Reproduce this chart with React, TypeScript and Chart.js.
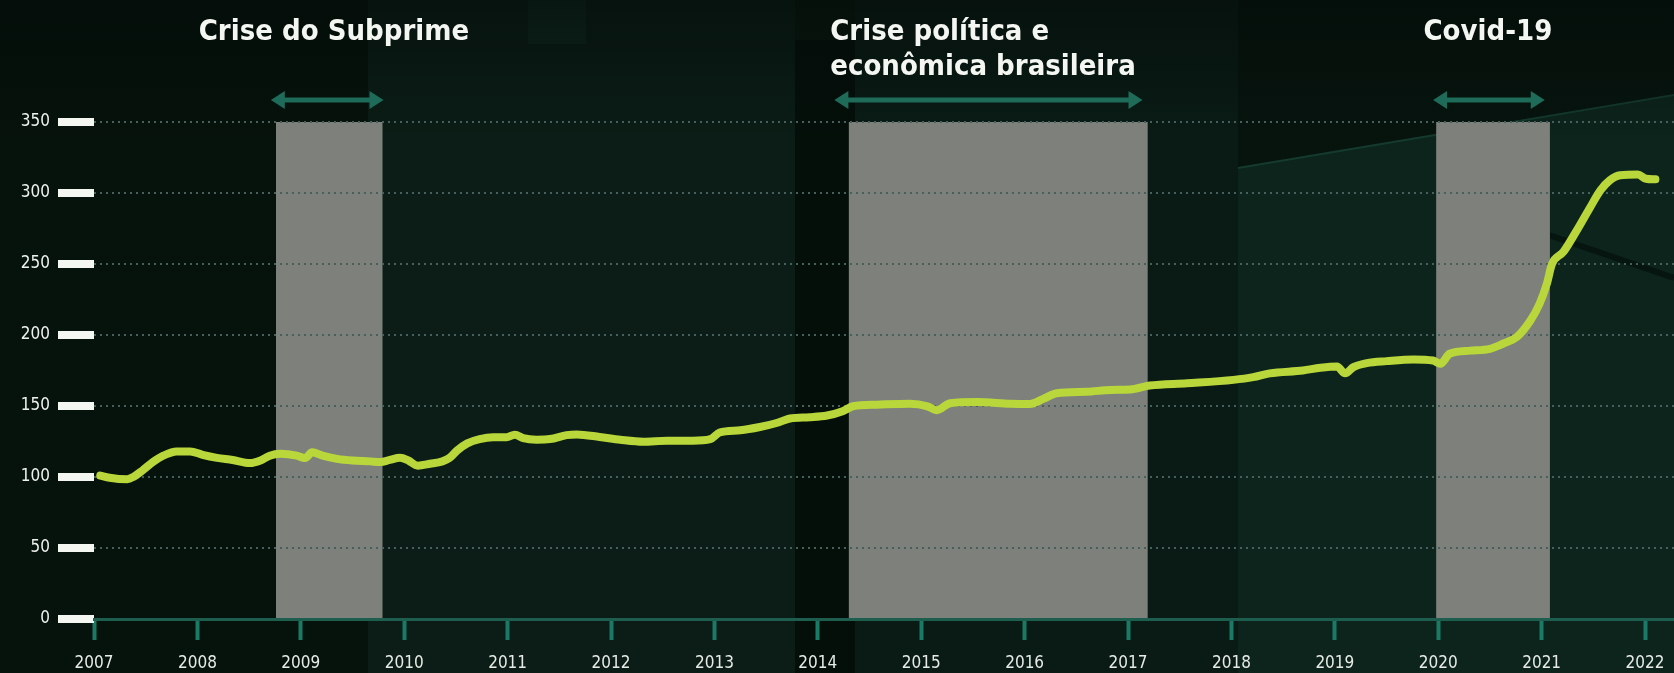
import { useEffect, useRef } from "react";
import { Chart, registerables } from "chart.js";

Chart.register(...registerables);

const W = 1674;
const H = 673;

// ---- data ----
const yearTicks = [2007, 2008, 2009, 2010, 2011, 2012, 2013, 2014, 2015, 2016, 2017, 2018, 2019, 2020, 2021, 2022];
const valueTicks = [0, 50, 100, 150, 200, 250, 300, 350];

const periodTitles = ["Crise do Subprime", "Crise política e\neconômica brasileira", "Covid-19"];
const periodStart = [2008.76, 2014.3, 2019.98];
const periodEnd = [2009.79, 2017.19, 2021.08];
const arrowStart = [2008.71, 2014.16, 2019.95];
const arrowEnd = [2009.8, 2017.14, 2021.03];
const titleAnchor = [2009.32, 2014.12, 2020.48];
const titleAlign = ["center", "left", "center"];

const dates = [
  2007.06, 2007.15, 2007.32, 2007.38, 2007.47, 2007.57, 2007.67, 2007.8, 2007.93,
  2008.05, 2008.19, 2008.34, 2008.51, 2008.61, 2008.7, 2008.8, 2008.96,
  2009.04, 2009.11, 2009.21, 2009.35, 2009.5, 2009.67, 2009.77, 2009.86, 2009.96,
  2010.04, 2010.13, 2010.25, 2010.37, 2010.44, 2010.51, 2010.61, 2010.73, 2010.86, 2010.99,
  2011.07, 2011.15, 2011.28, 2011.41, 2011.57, 2011.67, 2011.89,
  2012.09, 2012.31, 2012.54, 2012.79, 2012.96,
  2013.05, 2013.25, 2013.44, 2013.61, 2013.73, 2013.92,
  2014.09, 2014.24, 2014.34, 2014.57, 2014.89,
  2015.06, 2015.15, 2015.28, 2015.54, 2015.86,
  2016.05, 2016.18, 2016.31, 2016.6, 2016.83,
  2017.02, 2017.21, 2017.57,
  2018.02, 2018.21, 2018.37, 2018.69, 2018.86,
  2019.02, 2019.1, 2019.18, 2019.31, 2019.5, 2019.76, 2019.95,
  2020.02, 2020.11, 2020.31, 2020.5, 2020.63, 2020.76, 2020.89, 2020.98,
  2021.05, 2021.1, 2021.21, 2021.34, 2021.47, 2021.57, 2021.66, 2021.76, 2021.93,
  2022.01, 2022.1,
];
const values = [
  101, 99.5, 98.4, 100, 104.7, 110.5, 115, 118, 118,
  115.6, 113.5, 112, 109.8, 111.6, 115, 116.3, 115,
  113.3, 117.4, 115, 112.8, 111.6, 111, 110.5, 112, 113.5,
  111.6, 108, 109.3, 111, 113.5, 118.6, 123.7, 126.7, 128, 128,
  129.8, 127.4, 126.3, 126.7, 129.5, 130, 128.2,
  126.2, 124.8, 125.5, 125.5, 126.6,
  131.3, 132.9, 135.2, 138.2, 141.2, 142.1,
  143.3, 146.3, 149.8, 150.9, 151.6,
  149.8, 147, 152, 152.8, 151.6,
  151.4, 155, 159, 160, 161.3,
  161.6, 164.4, 166,
  168.4, 170.3, 173, 175, 176.9,
  177.8, 173, 177.4, 180.2, 181.6, 182.8, 182,
  179.7, 186.8, 189, 190.3, 194, 198.6, 210, 222,
  236, 250, 258.5, 273.7, 290, 302, 309, 312.5, 313,
  310, 309.6,
];

const FONT = '"DejaVu Sans Condensed", "DejaVu Sans", sans-serif';

const backgroundPlugin = {
  id: "bgBands",
  beforeDraw(chart: any) {
    const ctx = chart.ctx;
    const { chartArea, scales } = chart;
    ctx.save();
    // photographic dark-green background, approximated by panels
    ctx.fillStyle = "#08170f";
    ctx.fillRect(0, 0, W, H);
    ctx.fillStyle = "#06120c";
    ctx.fillRect(0, 0, 368, H);
    ctx.fillStyle = "#0b1d16";
    ctx.fillRect(368, 0, 427, H);
    ctx.fillStyle = "#0f261d";
    ctx.fillRect(528, 0, 58, 44);
    ctx.fillStyle = "#050f0a";
    ctx.fillRect(795, 40, 60, H);
    ctx.fillStyle = "#0a1b15";
    ctx.fillRect(855, 0, 383, H);
    ctx.fillStyle = "#07140e";
    ctx.fillRect(1238, 0, W - 1238, H);
    ctx.fillStyle = "#0c241c";
    ctx.beginPath();
    ctx.moveTo(1238, 168);
    ctx.lineTo(W, 95);
    ctx.lineTo(W, H);
    ctx.lineTo(1238, H);
    ctx.closePath();
    ctx.fill();
    ctx.strokeStyle = "#153a2e";
    ctx.lineWidth = 2;
    ctx.beginPath();
    ctx.moveTo(1238, 168);
    ctx.lineTo(W, 95);
    ctx.stroke();
    ctx.strokeStyle = "#071510";
    ctx.lineWidth = 6;
    ctx.beginPath();
    ctx.moveTo(1540, 232);
    ctx.lineTo(W, 278);
    ctx.stroke();
    // top vignette
    const g = ctx.createLinearGradient(0, 0, 0, 140);
    g.addColorStop(0, "rgba(3,10,7,0.55)");
    g.addColorStop(1, "rgba(3,10,7,0)");
    ctx.fillStyle = g;
    ctx.fillRect(0, 0, W, 140);

    // grey period bands
    const x = scales.x;
    const y = scales.y;
    ctx.fillStyle = "#7e807c";
    for (let i = 0; i < periodStart.length; i++) {
      const x1 = x.getPixelForValue(periodStart[i]);
      const x2 = x.getPixelForValue(periodEnd[i]);
      const yTop = y.getPixelForValue(350);
      ctx.fillRect(x1, yTop, x2 - x1, chartArea.bottom - yTop);
    }
    ctx.restore();
  },
  afterDraw(chart: any) {
    const ctx = chart.ctx;
    const x = chart.scales.x;
    ctx.save();
    // arrows
    const ay = 100;
    ctx.fillStyle = "#1f6b59";
    ctx.strokeStyle = "#1f6b59";
    for (let i = 0; i < arrowStart.length; i++) {
      const x1 = x.getPixelForValue(arrowStart[i]);
      const x2 = x.getPixelForValue(arrowEnd[i]);
      const hl = 14;
      const hh = 9;
      ctx.lineWidth = 5;
      ctx.beginPath();
      ctx.moveTo(x1 + hl - 2, ay);
      ctx.lineTo(x2 - hl + 2, ay);
      ctx.stroke();
      ctx.beginPath();
      ctx.moveTo(x1, ay);
      ctx.lineTo(x1 + hl, ay - hh);
      ctx.lineTo(x1 + hl, ay + hh);
      ctx.closePath();
      ctx.fill();
      ctx.beginPath();
      ctx.moveTo(x2, ay);
      ctx.lineTo(x2 - hl, ay - hh);
      ctx.lineTo(x2 - hl, ay + hh);
      ctx.closePath();
      ctx.fill();
    }
    // titles
    ctx.fillStyle = "#f4f6f2";
    ctx.font = `bold 29px ${FONT}`;
    ctx.textBaseline = "alphabetic";
    for (let i = 0; i < periodTitles.length; i++) {
      const lines = periodTitles[i].split("\n");
      ctx.textAlign = titleAlign[i] as CanvasTextAlign;
      const tx = x.getPixelForValue(titleAnchor[i]);
      lines.forEach((ln, k) => ctx.fillText(ln, tx, 40 + k * 35));
    }
    ctx.restore();
  },
};

export default function App() {
  const ref = useRef<HTMLCanvasElement | null>(null);
  useEffect(() => {
    document.body.style.margin = "0";
    const canvas = ref.current!;
    const chart = new Chart(canvas, {
      type: "line",
      data: {
        datasets: [
          {
            data: dates.map((d, i) => ({ x: d, y: values[i] })),
            borderColor: "#b9d73a",
            borderWidth: 8,
            borderCapStyle: "round",
            borderJoinStyle: "round",
            pointRadius: 0,
            cubicInterpolationMode: "monotone",
            fill: false,
          },
        ],
      },
      options: {
        animation: false,
        responsive: false,
        devicePixelRatio: 1,
        layout: { padding: { top: 122, left: 0, right: 0, bottom: 0 } },
        plugins: { legend: { display: false }, tooltip: { enabled: false } },
        scales: {
          x: {
            type: "linear",
            min: 2007,
            max: 2022.28,
            afterBuildTicks: (s: any) => {
              s.ticks = yearTicks.map((v) => ({ value: v }));
            },
            afterFit: (s: any) => {
              s.height = 54;
              s.paddingLeft = 0;
              s.paddingRight = 0;
            },
            grid: {
              display: true,
              drawOnChartArea: false,
              drawTicks: true,
              tickLength: 21,
              tickWidth: 4,
              tickColor: "#1b7a65",
              tickBorderDash: [],
            },
            border: { display: true, color: "#1d5e4f", width: 3 },
            ticks: {
              padding: 13,
              color: "#e6ebe6",
              font: { family: FONT, size: 17 },
              maxRotation: 0,
              autoSkip: false,
              callback: (v: any) => String(v),
            },
          },
          y: {
            min: 0,
            max: 350,
            afterBuildTicks: (s: any) => {
              s.ticks = valueTicks.map((v) => ({ value: v }));
            },
            afterFit: (s: any) => {
              s.width = 94;
            },
            grid: {
              display: true,
              drawOnChartArea: true,
              drawTicks: true,
              color: "#48605c",
              lineWidth: 2,
              tickLength: 36,
              tickWidth: 8,
              tickColor: "#f4f6f2",
              tickBorderDash: [],
            },
            border: { display: false, dash: [2, 4] },
            ticks: {
              padding: 8,
              color: "#eef2ee",
              font: { family: FONT, size: 17 },
              callback: (v: any) => String(v),
            },
          },
        },
      },
      plugins: [backgroundPlugin],
    } as any);
    return () => chart.destroy();
  }, []);
  return (
    <div style={{ position: "fixed", left: 0, top: 0, width: W, height: H }}>
      <canvas ref={ref} width={W} height={H} style={{ width: W, height: H, display: "block" }} />
    </div>
  );
}
